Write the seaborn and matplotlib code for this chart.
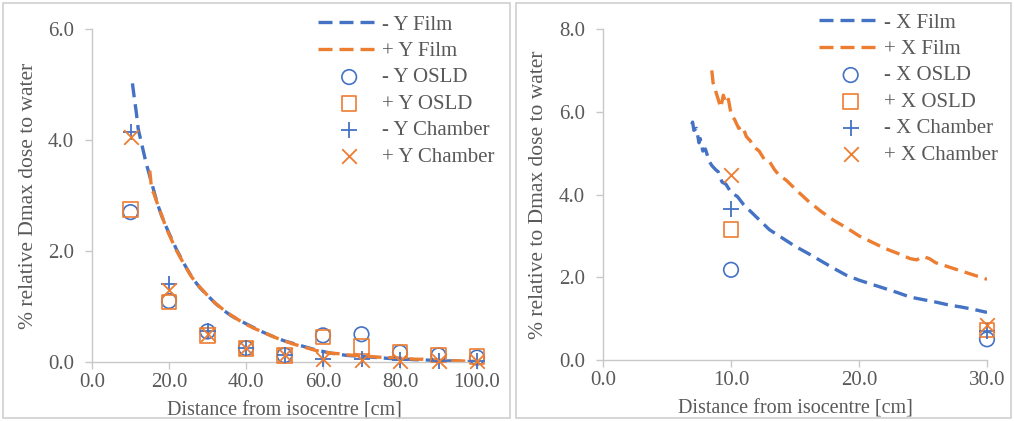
import numpy as np
import pandas as pd
import matplotlib
matplotlib.use("Agg")
import matplotlib.pyplot as plt
from matplotlib.patches import Rectangle
import seaborn as sns

# ---------------- data: left panel (Y direction) ----------------
y_film_neg_x = [10.5, 11, 11.5, 12, 12.5, 13, 14, 15, 16, 17, 18, 19, 20, 22, 24, 26, 28, 30,
                32, 34, 36, 38, 40, 42, 44, 46, 48, 50, 52, 54, 56, 58, 60, 62, 64, 66, 68, 70,
                72, 74, 76, 78, 80, 82, 84, 86, 88, 90, 92, 94, 96, 98, 100]
y_film_neg_y = [5.02, 4.75, 4.5, 4.2, 4.05, 3.9, 3.6, 3.35, 3.1, 2.85, 2.65, 2.48, 2.32, 2.02,
                1.76, 1.52, 1.34, 1.2, 1.06, 0.94, 0.84, 0.76, 0.69, 0.62, 0.55, 0.49, 0.43,
                0.38, 0.34, 0.3, 0.26, 0.22, 0.19, 0.16, 0.14, 0.12, 0.11, 0.10, 0.09, 0.08,
                0.07, 0.06, 0.05, 0.05, 0.04, 0.04, 0.03, 0.03, 0.02, 0.02, 0.01, 0.01, 0.01]
y_film_pos_x = [15, 15.5, 16, 17, 18, 19, 20, 22, 24, 26, 28, 30, 32, 34, 36, 38, 40, 42, 44,
                46, 48, 50, 52, 54, 56, 58, 60, 62, 64, 66, 68, 70, 72, 74, 76, 78, 80, 82, 84,
                86, 88, 90, 92, 94, 96, 98, 100]
y_film_pos_y = [3.45, 3.1, 3.05, 2.85, 2.66, 2.47, 2.3, 2.0, 1.75, 1.52, 1.35, 1.2, 1.06, 0.95,
                0.85, 0.76, 0.68, 0.61, 0.55, 0.49, 0.43, 0.38, 0.33, 0.29, 0.25, 0.21, 0.18,
                0.16, 0.15, 0.13, 0.12, 0.11, 0.10, 0.09, 0.08, 0.08, 0.07, 0.06, 0.05, 0.05,
                0.04, 0.03, 0.03, 0.02, 0.02, 0.01, 0.01]
y_points_x = [10, 20, 30, 40, 50, 60, 70, 80, 90, 100]
y_osld_neg = [2.70, 1.10, 0.55, 0.25, 0.12, 0.48, 0.50, 0.17, 0.12, 0.08]
y_osld_pos = [2.75, 1.08, 0.48, 0.24, 0.12, 0.45, 0.28, 0.18, 0.13, 0.10]
y_chamber_neg = [4.15, 1.40, 0.55, 0.25, 0.12, 0.05, 0.05, 0.03, 0.02, 0.02]
y_chamber_pos = [4.05, 1.30, 0.50, 0.25, 0.12, 0.05, 0.03, 0.02, 0.02, 0.01]

# ---------------- data: right panel (X direction) ----------------
x_film_neg_x = [6.93, 7.0, 7.1, 7.3, 7.5, 7.6, 7.8, 8.0, 8.3, 8.5, 8.8, 9.0, 9.3, 9.6, 10.0,
                10.5, 11.0, 11.5, 12.0, 12.5, 13.0, 13.5, 14, 15, 16, 17, 18, 19, 20, 21, 22,
                23, 24, 25, 26, 27, 28, 29, 30]
x_film_neg_y = [5.70, 5.75, 5.55, 5.60, 5.25, 5.35, 5.05, 5.10, 4.80, 4.70, 4.60, 4.55, 4.30,
                4.25, 4.05, 3.95, 3.75, 3.60, 3.45, 3.30, 3.15, 3.05, 2.95, 2.75, 2.58, 2.40,
                2.22, 2.05, 1.93, 1.83, 1.73, 1.63, 1.52, 1.46, 1.40, 1.33, 1.28, 1.22, 1.15]
x_film_pos_x = [8.5, 8.6, 8.8, 9.0, 9.2, 9.4, 9.6, 9.8, 10.0, 10.3, 10.6, 10.9, 11.2, 11.5,
                11.8, 12.2, 12.6, 13.0, 13.4, 13.8, 14.3, 14.8, 15.3, 16, 17, 18, 19, 20, 21,
                22, 23, 24, 24.5, 25, 25.5, 26, 27, 28, 29, 30]
x_film_pos_y = [7.00, 6.70, 6.50, 6.30, 6.10, 6.40, 6.20, 6.30, 5.95, 5.80, 5.60, 5.65, 5.40,
                5.30, 5.15, 5.05, 4.85, 4.80, 4.60, 4.45, 4.35, 4.20, 4.05, 3.85, 3.60, 3.38,
                3.20, 3.00, 2.85, 2.70, 2.58, 2.45, 2.42, 2.50, 2.45, 2.35, 2.25, 2.15, 2.05,
                1.95]
x_points_x = [10, 30]
x_osld_neg = [2.18, 0.50]
x_osld_pos = [3.15, 0.72]
x_chamber_neg = [3.65, 0.70]
x_chamber_pos = [4.47, 0.85]

BLUE = "#4472C4"
ORANGE = "#ED7D31"
GRAY = "#595959"
AXIS = "#c8c8c8"

sns.set_style("white")
plt.rcParams["font.family"] = ["Liberation Serif", "DejaVu Serif"]
plt.rcParams["text.color"] = GRAY
plt.rcParams["axes.labelcolor"] = GRAY
plt.rcParams["xtick.color"] = GRAY
plt.rcParams["ytick.color"] = GRAY

W, H = 1014, 421
fig = plt.figure(figsize=(W / 100, H / 100), dpi=100)

# panel frames
for (x0, x1) in [(3, 510), (516, 1011)]:
    fig.patches.append(Rectangle((x0 / W, 3 / H), (x1 - x0) / W, (H - 6) / H,
                                 transform=fig.transFigure, fill=False,
                                 edgecolor="#d0d0d0", linewidth=1.2))

ax1 = fig.add_axes([92 / W, (H - 362) / H, 385 / W, 333 / H])
ax2 = fig.add_axes([603 / W, (H - 360) / H, 384 / W, 331 / H])

TICK_FS = 15
XLAB_FS = 14.5
YLAB_FS = 15.5
LEG_FS = 15


def draw(ax, film_neg, film_pos, px, osld_neg, osld_pos, ch_neg, ch_pos, axis_lab, xmax,
         ymax, xstep, ystep, ylabel, legend_anchor, ylab_x):
    dfn = pd.DataFrame({"x": film_neg[0], "y": film_neg[1]})
    dfp = pd.DataFrame({"x": film_pos[0], "y": film_pos[1]})
    sns.lineplot(data=dfn, x="x", y="y", ax=ax, color=BLUE, lw=2.4, sort=False,
                 estimator=None, label=f"- {axis_lab} Film")
    sns.lineplot(data=dfp, x="x", y="y", ax=ax, color=ORANGE, lw=2.4, sort=False,
                 estimator=None, label=f"+ {axis_lab} Film")
    for line in ax.get_lines():
        line.set_linestyle((0, (4.2, 2.1)))
    common = dict(ax=ax, zorder=3, clip_on=False)
    sns.scatterplot(x=px, y=osld_neg, marker="o", s=110, facecolor="none",
                    edgecolor=BLUE, linewidth=1.2, label=f"- {axis_lab} OSLD", **common)
    sns.scatterplot(x=px, y=osld_pos, marker="s", s=110, facecolor="none",
                    edgecolor=ORANGE, linewidth=1.2, label=f"+ {axis_lab} OSLD", **common)
    sns.scatterplot(x=px, y=ch_neg, marker="+", s=130, color=BLUE,
                    linewidth=1.3, label=f"- {axis_lab} Chamber", **common)
    sns.scatterplot(x=px, y=ch_pos, marker="x", s=110, color=ORANGE,
                    linewidth=1.3, label=f"+ {axis_lab} Chamber", **common)

    ax.set_xlim(0, xmax)
    ax.set_ylim(0, ymax)
    ax.set_xticks(np.arange(0, xmax + 0.01, xstep))
    ax.set_yticks(np.arange(0, ymax + 0.01, ystep))
    ax.xaxis.set_major_formatter(matplotlib.ticker.FormatStrFormatter("%.1f"))
    ax.yaxis.set_major_formatter(matplotlib.ticker.FormatStrFormatter("%.1f"))
    ax.tick_params(axis="x", length=5, width=1, color=AXIS, labelsize=TICK_FS, pad=3,
                   direction="out", bottom=True)
    ax.tick_params(axis="y", length=5, width=1, color=AXIS, labelsize=TICK_FS, pad=8,
                   direction="out", left=True)
    for s in ["top", "right"]:
        ax.spines[s].set_visible(False)
    for s in ["left", "bottom"]:
        ax.spines[s].set_color(AXIS)
        ax.spines[s].set_linewidth(1.0)
    ax.set_xlabel("Distance from isocentre [cm]", fontsize=XLAB_FS, labelpad=7)
    ax.set_ylabel(ylabel, fontsize=YLAB_FS)
    ax.yaxis.set_label_coords(ylab_x, 0.5)
    ax.patch.set_alpha(0)
    leg = ax.legend(loc="upper right", bbox_to_anchor=legend_anchor,
                    bbox_transform=fig.transFigure, frameon=False, fontsize=LEG_FS,
                    handlelength=3.0, handletextpad=0.1, labelspacing=0.33,
                    borderpad=0, borderaxespad=0)
    for t in leg.get_texts():
        t.set_color(GRAY)


draw(ax1, (y_film_neg_x, y_film_neg_y), (y_film_pos_x, y_film_pos_y), y_points_x,
     y_osld_neg, y_osld_pos, y_chamber_neg, y_chamber_pos, "Y", 100, 6, 20, 2,
     "% relative Dmax dose to water", (495 / W, 1 - 15 / H), (38 - 92) / 385)
draw(ax2, (x_film_neg_x, x_film_neg_y), (x_film_pos_x, x_film_pos_y), x_points_x,
     x_osld_neg, x_osld_pos, x_chamber_neg, x_chamber_pos, "X", 30, 8, 10, 2,
     "% relative to Dmax dose to water", (998 / W, 1 - 13 / H), (548 - 603) / 384)

fig.savefig("out.png", dpi=100)
